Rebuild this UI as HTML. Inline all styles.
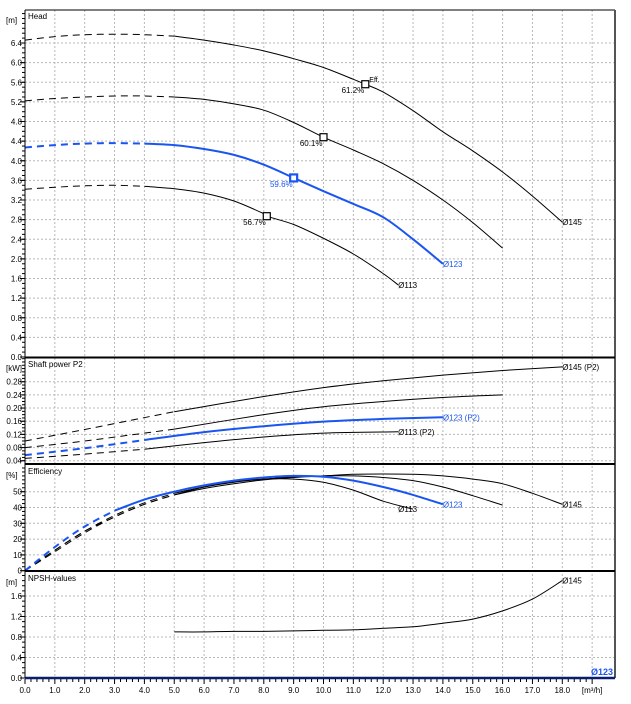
<!DOCTYPE html>
<html><head><meta charset="utf-8">
<style>
html,body{margin:0;padding:0;background:#fff;}
svg{display:block;font-family:"Liberation Sans",sans-serif;}
</style></head>
<body>
<svg id="chart" width="631" height="704" viewBox="0 0 631 704" xmlns="http://www.w3.org/2000/svg"></svg>
<script>
// ---- data ----
const xTicks = [0,1,2,3,4,5,6,7,8,9,10,11,12,13,14,15,16,17,18];
const headTicks = [0,0.4,0.8,1.2,1.6,2.0,2.4,2.8,3.2,3.6,4.0,4.4,4.8,5.2,5.6,6.0,6.4];
const powerTicks = [0.04,0.08,0.12,0.16,0.20,0.24,0.28];
const effTicks = [0,10,20,30,40,50];
const npshTicks = [0,0.4,0.8,1.2,1.6];

const qHead145 = [0,1,2,3,4,5,6,7,8,9,10,11,11.4,12,13,14,15,16,17,18];
const hHead145 = [6.46,6.53,6.57,6.58,6.57,6.54,6.46,6.36,6.24,6.08,5.90,5.66,5.56,5.40,5.02,4.59,4.20,3.77,3.28,2.75];
const qHead134 = [0,1,2,3,4,5,6,7,8,9,10,11,12,13,14,15,16];
const hHead134 = [5.22,5.27,5.30,5.32,5.32,5.30,5.25,5.16,5.03,4.78,4.48,4.22,3.94,3.60,3.20,2.74,2.22];
const qHead123 = [0,1,2,3,4,5,6,7,8,9,10,11,12,13,14];
const hHead123 = [4.27,4.32,4.35,4.36,4.35,4.32,4.24,4.12,3.92,3.65,3.38,3.12,2.85,2.40,1.90];
const qHead113 = [0,1,2,3,4,5,6,7,8,8.1,9,10,11,12,12.5];
const hHead113 = [3.42,3.46,3.49,3.50,3.48,3.43,3.34,3.18,2.92,2.87,2.70,2.42,2.10,1.70,1.47];

const qPow145 = [0,2,5,8,10,12,14,16,18];
const pPow145 = [0.10,0.135,0.189,0.235,0.262,0.283,0.300,0.314,0.325];
const qPow134 = [0,2,5,8,10,12,14,16];
const pPow134 = [0.08,0.100,0.136,0.180,0.204,0.220,0.232,0.240];
const qPow123 = [0,2,4,6,8,10,12,14];
const pPow123 = [0.057,0.078,0.103,0.127,0.145,0.159,0.167,0.172];
const qPow113 = [0,2,4,6,8,10,12.5];
const pPow113 = [0.047,0.060,0.075,0.095,0.112,0.124,0.128];

const qEff = [0,1,2,3,4,5,6,7,8,9,10,11,12,13,14,15,16,17,18];
const eEff145 = [0,12,24,34,42,48,52,55,57.5,59,60,61,61.2,61,60,58,55,49,42];
const eEff134 = [0,13,25,35,43,49,53,56,58,59.5,60,60,59,57,53,47.5,41.5];
const eEff123 = [0,15,28,38,45,50,54,57,59,60,59.5,57,53,48,42];
const eEff113 = [0,13,25,34,42,48,53,56.5,58,58,56,51,44,39];

const qNpsh = [5,6,7,8,9,10,11,12,13,14,15,16,17,18];
const nNpsh = [0.90,0.90,0.91,0.91,0.92,0.93,0.94,0.97,1.00,1.07,1.15,1.31,1.54,1.90];

// ---- geometry ----
const svg = document.getElementById('chart');
const NS = 'http://www.w3.org/2000/svg';
const X0 = 25, XR = 615, PX = 29.85;
const sx = q => X0 + q*PX;
const yHead = v => 357 - v*49.06;
const yPow = v => 473.9 - v*329.2;
const yEff = v => 570.7 - v*1.58;
const yNpsh = v => 678 - v*51.25;

function mk(tag, attrs, parent){
  const e = document.createElementNS(NS, tag);
  for (const k in attrs) e.setAttribute(k, attrs[k]);
  (parent||svg).appendChild(e);
  return e;
}
function txt(x,y,s,size,fill,anchor,parent){
  const t = mk('text',{x:x,y:y,'font-size':size,fill:fill,'text-anchor':anchor||'start'},parent);
  t.textContent = s;
  return t;
}

const grid = mk('g',{stroke:'#b8b8b8','stroke-width':1,'stroke-dasharray':'2,2'});


for (let i=0;i<=19;i++){
  mk('line',{x1:sx(i),y1:10,x2:sx(i),y2:678},grid);
}

function panel(name, top, bottom, ticks, yf, fmt, unit, title){
  const g = mk('g',{});
  
  
  ticks.forEach(v=>{
    const y = yf(v);
    if (y>top+2 && y<bottom-1) mk('line',{x1:X0,y1:y,x2:XR,y2:y,stroke:'#b8b8b8','stroke-dasharray':'2,2'},g);
    mk('line',{x1:X0-5,y1:y,x2:X0,y2:y,stroke:'#000'},g);
    const t = txt(X0-3,y+3,fmt(v),8,'#000','end',g);
    
    
  });
  const step = (yf(ticks[0]) - yf(ticks[1]))/4;
  for (let y = yf(ticks[0]); y>top; y-=step){
    mk('line',{x1:X0-3,y1:y,x2:X0,y2:y,stroke:'#000'},g);
  }
  const u = txt(6,top+13,unit,8,'#000','start',g);
  
  
  const ti = txt(X0+3,top+9,title,8,'#000','start',g);
  
  
}
panel('head',10,357,headTicks,yHead,v=>v.toFixed(1),'[m]','Head');
panel('power',358,464,powerTicks,yPow,v=>v.toFixed(2),'[kW]','Shaft power P2');
panel('efficiency',465,571,effTicks,yEff,v=>String(v),'[%]','Efficiency');
panel('npsh',572,678,npshTicks,yNpsh,v=>v.toFixed(1),'[m]','NPSH-values');

// smooth Catmull-Rom path through all points, dashed/solid via segment split
function smoothPath(pts){
  if (pts.length<2) return '';
  let d = 'M'+pts[0][0].toFixed(1)+','+pts[0][1].toFixed(1);
  for (let i=0;i<pts.length-1;i++){
    const p0 = pts[i-1]||pts[i], p1=pts[i], p2=pts[i+1], p3=pts[i+2]||p2;
    const c1x = p1[0]+(p2[0]-p0[0])/6, c1y = p1[1]+(p2[1]-p0[1])/6;
    const c2x = p2[0]-(p3[0]-p1[0])/6, c2y = p2[1]-(p3[1]-p1[1])/6;
    d += ' C'+c1x.toFixed(1)+','+c1y.toFixed(1)+' '+c2x.toFixed(1)+','+c2y.toFixed(1)+' '+p2[0].toFixed(1)+','+p2[1].toFixed(1);
  }
  return d;
}
function curve(name, qs, vs, yf, color, width, dashUntil){
  const g = mk('g',{fill:'none',stroke:color,'stroke-width':width});
  
  
  const dashPts=[], solidPts=[];
  qs.forEach((q,i)=>{
    const p = [sx(q), yf(vs[i])];
    if (q<=dashUntil) dashPts.push(p);
    if (q>=dashUntil) solidPts.push(p);
  });
  if (dashPts.length>1) mk('path',{d:smoothPath(dashPts),'stroke-dasharray':'7,5'},g);
  if (solidPts.length>1) mk('path',{d:smoothPath(solidPts)},g);
  return g;
}
const BLUE = '#1a55f0';
curve('head-curve-145',qHead145,hHead145,yHead,'#000',1,5);
curve('head-curve-134',qHead134,hHead134,yHead,'#000',1,5);
curve('head-curve-123',qHead123,hHead123,yHead,BLUE,2,4);
curve('head-curve-113',qHead113,hHead113,yHead,'#000',1,4);
curve('power-curve-145',qPow145,pPow145,yPow,'#000',1,5);
curve('power-curve-134',qPow134,pPow134,yPow,'#000',1,5);
curve('power-curve-123',qPow123,pPow123,yPow,BLUE,2,4);
curve('power-curve-113',qPow113,pPow113,yPow,'#000',1,4);
curve('eff-curve-145',qEff.slice(0,eEff145.length),eEff145,yEff,'#000',1,5);
curve('eff-curve-134',qEff.slice(0,eEff134.length),eEff134,yEff,'#000',1,5);
curve('eff-curve-113',qEff.slice(0,eEff113.length),eEff113,yEff,'#000',1,5);
curve('eff-curve-123',qEff.slice(0,eEff123.length),eEff123,yEff,BLUE,2,3);
curve('npsh-curve-145',qNpsh,nNpsh,yNpsh,'#000',1,0);

function marker(name,q,h,label,color,lw){
  const m = mk('rect',{x:sx(q)-3.5,y:yHead(h)-3.5,width:7,height:7,fill:'#fff',stroke:color,'stroke-width':lw});
  
  
  const t = txt(sx(q)-1,yHead(h)+9,label,8,color,'end');
  
  
}
marker('bep-marker-145',11.4,5.56,'61.2%','#000',1.2);
marker('bep-marker-134',10,4.48,'60.1%','#000',1.2);
marker('bep-marker-123',9,3.65,'59.6%',BLUE,2.2);
marker('bep-marker-113',8.1,2.87,'56.7%','#000',1.2);
const eff = txt(sx(11.4)+4,yHead(5.56)-2,'Eff.',7,'#000');



function endLabel(name,x,y,s,color){
  const t = txt(x,y,s,8,color);
  
  
}
endLabel('label-head-145',sx(18),yHead(2.75)+3,'Ø145','#000');
endLabel('label-head-123',sx(14),yHead(1.9)+3,'Ø123',BLUE);
endLabel('label-head-113',sx(12.5),yHead(1.47)+3,'Ø113','#000');
endLabel('label-power-145',sx(18),yPow(0.325)+3,'Ø145 (P2)','#000');
endLabel('label-power-123',sx(14),yPow(0.172)+3,'Ø123 (P2)',BLUE);
endLabel('label-power-113',sx(12.5),yPow(0.128)+3,'Ø113 (P2)','#000');
endLabel('label-eff-145',sx(18),yEff(42)+3,'Ø145','#000');
endLabel('label-eff-123',sx(14),yEff(42)+3,'Ø123',BLUE);
endLabel('label-eff-113',sx(12.5),yEff(39)+3,'Ø113','#000');
endLabel('label-npsh-145',sx(18),yNpsh(1.9)+3,'Ø145','#000');

const fr = mk('g',{fill:'none'});


mk('line',{x1:X0,y1:10,x2:XR,y2:10,stroke:'#000','stroke-width':1},fr);
mk('line',{x1:X0,y1:10,x2:X0,y2:678,stroke:'#000','stroke-width':1},fr);
mk('line',{x1:XR,y1:10,x2:XR,y2:678,stroke:'#555','stroke-width':2},fr);
[357.5,464,571].forEach(y=>mk('line',{x1:X0,y1:y,x2:XR,y2:y,stroke:'#000','stroke-width':2},fr));
mk('line',{x1:X0,y1:678,x2:XR,y2:678,stroke:'#0a1e6e','stroke-width':2.5},fr);

const xa = mk('g',{});


for (let i=0;i<=19*5;i++){
  const x = X0 + i*PX/5;
  if (x>XR) break;
  mk('line',{x1:x,y1:679,x2:x,y2:i%5===0?684:682,stroke:'#000'},xa);
}
xTicks.forEach(q=>{
  const t = txt(sx(q),693,q.toFixed(1),8,'#000','middle',xa);
  
  
});
const xu = txt(sx(19),693,'[m³/h]',8,'#000','middle',xa);


const sel = txt(613,675,'Ø123',9,BLUE,'end');
sel.setAttribute('font-weight','bold');


</script>
</body></html>
